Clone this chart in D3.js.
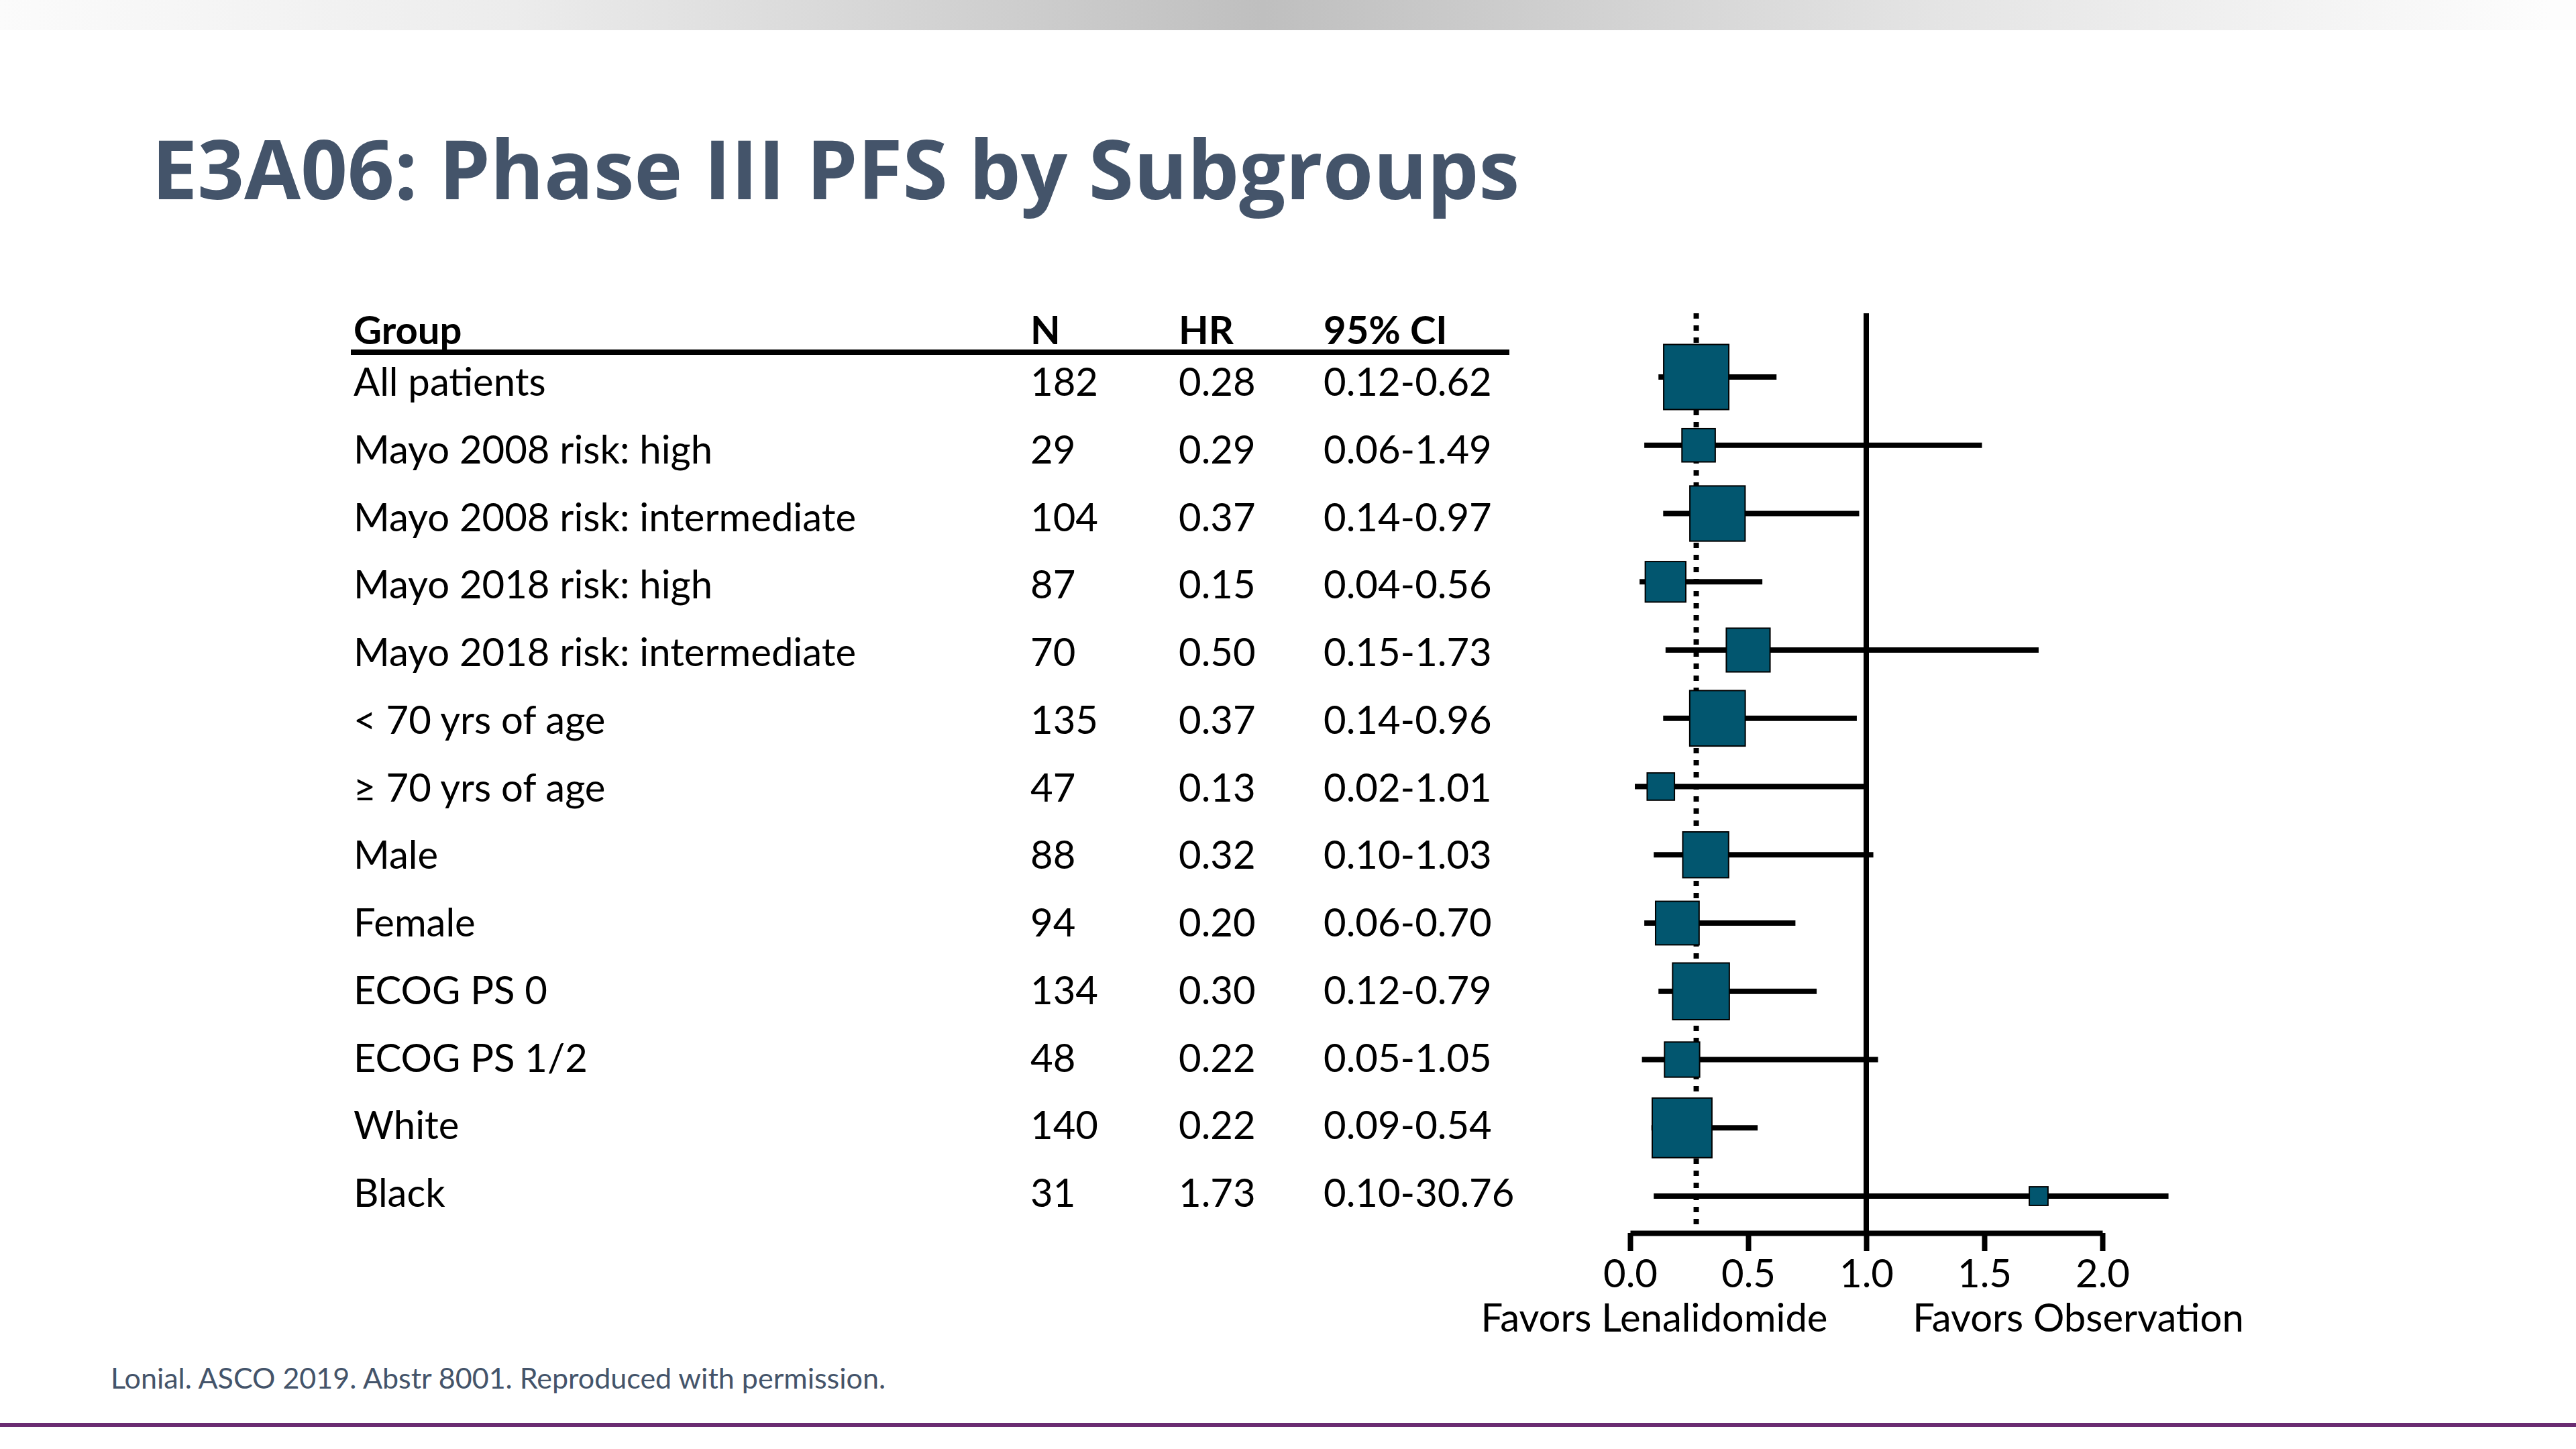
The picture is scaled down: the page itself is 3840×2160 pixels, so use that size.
<!DOCTYPE html>
<html lang="en">
  <head>
    <meta charset="UTF-8" />
    <title>E3A06: Phase III PFS by Subgroups</title>
    <script src="https://d3js.org/d3.v7.min.js"></script>
    <style>
      html, body { margin: 0; padding: 0; background: #ffffff; }
    </style>
  </head>
  <body>
    <div id="chart"></div>

    <script>
      // Table / forest plot data
      const groups = [
        "All patients",
        "Mayo 2008 risk: high",
        "Mayo 2008 risk: intermediate",
        "Mayo 2018 risk: high",
        "Mayo 2018 risk: intermediate",
        "< 70 yrs of age",
        "\u2265 70 yrs of age",
        "Male",
        "Female",
        "ECOG PS 0",
        "ECOG PS 1/2",
        "White",
        "Black",
      ];
      const nValues = [182, 29, 104, 87, 70, 135, 47, 88, 94, 134, 48, 140, 31];
      const hrValues = [0.28, 0.29, 0.37, 0.15, 0.5, 0.37, 0.13, 0.32, 0.2, 0.3, 0.22, 0.22, 1.73];
      const ciLow = [0.12, 0.06, 0.14, 0.04, 0.15, 0.14, 0.02, 0.1, 0.06, 0.12, 0.05, 0.09, 0.1];
      const ciHigh = [0.62, 1.49, 0.97, 0.56, 1.73, 0.96, 1.01, 1.03, 0.7, 0.79, 1.05, 0.54, 30.76];
      const overallHR = 0.28;
      const xTicks = [0, 0.5, 1, 1.5, 2];
      const headers = ["Group", "N", "HR", "95% CI"];

      const W = 3840,
        H = 2160;
      const textFont = "Lato, 'Open Sans', sans-serif";
      const slate = "#44546a";

      const svg = d3
        .select("#chart")
        .append("svg")
        .attr("width", W)
        .attr("height", H)
        .style("display", "block");

      // top grey band
      const defs = svg.append("defs");
      const grad = defs
        .append("linearGradient")
        .attr("id", "topband")
        .attr("x1", "0%")
        .attr("x2", "100%");
      grad.append("stop").attr("offset", "0%").attr("stop-color", "#fbfbfb");
      grad.append("stop").attr("offset", "20%").attr("stop-color", "#ececec");
      grad.append("stop").attr("offset", "49%").attr("stop-color", "#bfbfbf");
      grad.append("stop").attr("offset", "75%").attr("stop-color", "#e4e4e4");
      grad.append("stop").attr("offset", "99%").attr("stop-color", "#fdfdfd");
      svg.append("rect").attr("x", 0).attr("y", 0).attr("width", W).attr("height", 45).attr("fill", "url(#topband)");

      // title
      svg
        .append("text")
        .attr("x", 226)
        .attr("y", 297)
        .attr("font-family", "'Open Sans', sans-serif")
        .attr("font-weight", 700)
        .attr("font-size", 122)
        .attr("fill", slate)
        .text("E3A06: Phase III PFS by Subgroups");

      // ---- table on the left ----
      const colX = [527, 1536, 1757, 1973];
      const yText = d3.scalePoint().domain(groups).range([590, 1799]);

      const table = svg.append("g").attr("font-family", textFont).attr("font-size", 58).attr("fill", "#000");

      table
        .selectAll("text.head")
        .data(headers)
        .join("text")
        .attr("class", "head")
        .attr("x", (d, i) => colX[i])
        .attr("y", 513)
        .attr("font-weight", 700)
        .text((d) => d);

      table
        .append("line")
        .attr("x1", 523)
        .attr("x2", 2250)
        .attr("y1", 525)
        .attr("y2", 525)
        .attr("stroke", "#000")
        .attr("stroke-width", 8);

      const rows = groups.map((g, i) => ({
        group: g,
        n: nValues[i],
        hr: hrValues[i],
        lo: ciLow[i],
        hi: ciHigh[i],
      }));

      const rowG = table
        .selectAll("g.row")
        .data(rows)
        .join("g")
        .attr("class", "row")
        .attr("transform", (d) => `translate(0,${yText(d.group)})`);

      rowG.append("text").attr("x", colX[0]).text((d) => d.group);
      rowG.append("text").attr("x", colX[1]).text((d) => d.n);
      rowG.append("text").attr("x", colX[2]).text((d) => d3.format(".2f")(d.hr));
      rowG
        .append("text")
        .attr("x", colX[3])
        .text((d) => d3.format(".2f")(d.lo) + "-" + d3.format(".2f")(d.hi));

      // ---- forest plot on the right ----
      const x = d3.scaleLinear().domain([0, 2]).range([2430, 3134]);
      const yPlot = d3.scalePoint().domain(groups).range([562, 1783]);
      const axisY = 1838,
        plotTop = 467;
      const clipMax = 2.28; // CI lines are cut off past this value

      defs
        .append("clipPath")
        .attr("id", "plotclip")
        .append("rect")
        .attr("x", x(-0.2))
        .attr("y", 0)
        .attr("width", x(clipMax) - x(-0.2))
        .attr("height", H);

      // box size from the inverse-variance weight of each estimate
      const weight = (d) => Math.pow((2 * 1.96) / Math.log(d.hi / d.lo), 2);
      const size = d3
        .scaleSqrt()
        .domain([0, d3.max(rows, weight)])
        .range([0, 97]);

      const plot = svg.append("g");

      // overall HR dotted line
      plot
        .append("line")
        .attr("x1", x(overallHR))
        .attr("x2", x(overallHR))
        .attr("y1", plotTop)
        .attr("y2", axisY - 6)
        .attr("stroke", "#000")
        .attr("stroke-width", 8)
        .attr("stroke-dasharray", "8 10");

      // line of no effect
      plot
        .append("line")
        .attr("x1", x(1))
        .attr("x2", x(1))
        .attr("y1", plotTop)
        .attr("y2", axisY)
        .attr("stroke", "#000")
        .attr("stroke-width", 8);

      // confidence intervals
      plot
        .append("g")
        .attr("clip-path", "url(#plotclip)")
        .selectAll("line")
        .data(rows)
        .join("line")
        .attr("x1", (d) => x(d.lo))
        .attr("x2", (d) => x(Math.min(d.hi, clipMax + 0.5)))
        .attr("y1", (d) => yPlot(d.group))
        .attr("y2", (d) => yPlot(d.group))
        .attr("stroke", "#000")
        .attr("stroke-width", 8);

      // HR boxes
      plot
        .append("g")
        .selectAll("rect")
        .data(rows)
        .join("rect")
        .attr("x", (d) => x(d.hr) - size(weight(d)) / 2)
        .attr("y", (d) => yPlot(d.group) - size(weight(d)) / 2)
        .attr("width", (d) => size(weight(d)))
        .attr("height", (d) => size(weight(d)))
        .attr("fill", "#02566f")
        .attr("stroke", "#000")
        .attr("stroke-width", 2);

      // x axis
      const axis = svg
        .append("g")
        .attr("transform", `translate(0,${axisY})`)
        .call(
          d3
            .axisBottom(x)
            .tickValues(xTicks)
            .tickFormat(d3.format(".1f"))
            .tickSize(27)
            .tickSizeOuter(0)
            .tickPadding(13)
        );
      axis.select(".domain").attr("stroke", "#000").attr("stroke-width", 8);
      axis.selectAll(".tick line").attr("stroke", "#000").attr("stroke-width", 8);
      axis
        .selectAll(".tick text")
        .attr("font-family", textFont)
        .attr("font-size", 58)
        .attr("fill", "#000");

      svg
        .append("g")
        .attr("font-family", textFont)
        .attr("font-size", 58)
        .attr("text-anchor", "middle")
        .selectAll("text")
        .data([
          { t: "Favors Lenalidomide", cx: 2466 },
          { t: "Favors Observation", cx: 3098 },
        ])
        .join("text")
        .attr("x", (d) => d.cx)
        .attr("y", 1985)
        .text((d) => d.t);

      // footer
      svg
        .append("text")
        .attr("x", 165)
        .attr("y", 2070)
        .attr("font-family", textFont)
        .attr("font-size", 43)
        .attr("fill", slate)
        .text("Lonial. ASCO 2019. Abstr 8001. Reproduced with permission.");

      svg.append("rect").attr("x", 0).attr("y", 2121).attr("width", W).attr("height", 6).attr("fill", "#6a2c72");
    </script>
  </body>
</html>
